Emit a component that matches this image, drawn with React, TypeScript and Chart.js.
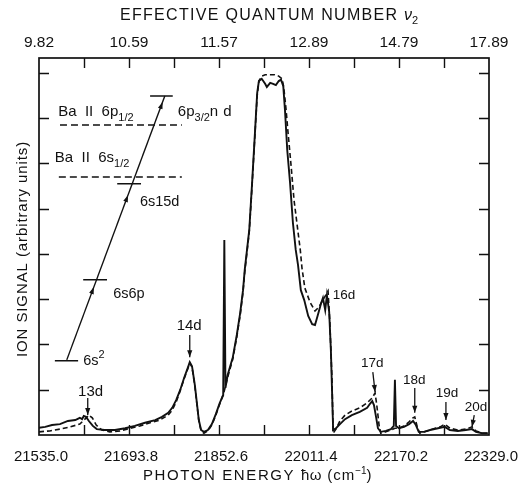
import React, { useEffect, useRef } from 'react';
import { Chart, registerables } from 'chart.js';
Chart.register(...registerables);

const FONT = '"Liberation Sans", Arial, Helvetica, sans-serif';

// Axis tick labels
const bottomTickLabels = ['21535.0', '21693.8', '21852.6', '22011.4', '22170.2', '22329.0'];
const topTickLabels = ['9.82', '10.59', '11.57', '12.89', '14.79', '17.89'];
const signalTicks = [1, 2, 3, 4, 5, 6, 7, 8];
const signalMax = 8.33;

// Solid trace
const solidEnergy = [21535, 21546, 21558, 21572, 21586, 21599, 21607, 21611, 21614, 21618, 21623, 21630, 21637, 21651, 21669, 21687, 21704, 21722, 21740, 21752, 21763, 21770, 21777, 21784, 21791, 21798, 21801, 21805, 21810, 21814, 21817, 21821, 21826, 21833, 21840, 21847, 21854, 21860, 21862, 21864, 21868, 21877, 21884, 21890, 21895, 21898, 21902, 21906, 21911, 21916, 21920, 21923, 21928, 21934, 21937, 21943, 21948, 21953, 21958, 21962, 21966, 21969, 21973, 21978, 21983, 21988, 21992, 21997, 22003, 22010, 22017, 22022, 22027, 22033, 22036, 22040, 22043, 22047, 22050, 22054, 22059, 22066, 22075, 22087, 22101, 22114, 22119, 22123, 22126, 22130, 22133, 22138, 22147, 22156, 22161, 22163, 22165, 22170, 22179, 22188, 22195, 22200, 22205, 22214, 22225, 22239, 22251, 22260, 22274, 22288, 22299, 22306, 22317, 22327];
const solidSignal = [0.16, 0.18, 0.22, 0.24, 0.31, 0.33, 0.38, 0.35, 0.42, 0.40, 0.31, 0.20, 0.13, 0.11, 0.11, 0.15, 0.20, 0.27, 0.33, 0.40, 0.49, 0.60, 0.77, 0.99, 1.26, 1.50, 1.61, 1.52, 1.10, 0.66, 0.33, 0.11, 0.07, 0.11, 0.24, 0.46, 0.71, 0.88, 4.31, 1.04, 1.33, 1.72, 2.21, 2.70, 3.20, 3.65, 4.09, 4.53, 5.57, 6.67, 7.56, 7.82, 7.87, 7.76, 7.69, 7.78, 7.76, 7.73, 7.82, 7.85, 7.71, 7.18, 6.30, 5.57, 4.69, 4.09, 3.76, 3.20, 2.98, 2.63, 2.45, 2.43, 2.65, 2.92, 3.03, 2.76, 3.09, 2.72, 1.88, 0.11, 0.15, 0.24, 0.35, 0.44, 0.51, 0.60, 0.69, 0.75, 0.66, 0.38, 0.15, 0.07, 0.09, 0.13, 0.20, 1.22, 0.20, 0.15, 0.18, 0.24, 0.31, 0.22, 0.07, 0.07, 0.11, 0.15, 0.18, 0.11, 0.09, 0.11, 0.13, 0.07, 0.04, 0.04];

// Dashed trace
const dashEnergy = [21535, 21554, 21572, 21590, 21607, 21616, 21623, 21629, 21636, 21646, 21660, 21678, 21696, 21713, 21731, 21748, 21763, 21770, 21777, 21784, 21791, 21798, 21801, 21805, 21810, 21814, 21817, 21821, 21826, 21833, 21840, 21847, 21854, 21861, 21868, 21877, 21884, 21890, 21895, 21898, 21902, 21906, 21911, 21916, 21920, 21923, 21928, 21934, 21943, 21951, 21958, 21964, 21967, 21971, 21974, 21980, 21985, 21990, 21996, 21999, 22004, 22013, 22022, 22029, 22034, 22040, 22045, 22048, 22052, 22054, 22059, 22066, 22075, 22087, 22101, 22114, 22123, 22128, 22131, 22135, 22138, 22147, 22156, 22163, 22170, 22179, 22188, 22195, 22198, 22203, 22207, 22220, 22234, 22243, 22251, 22260, 22274, 22288, 22299, 22306, 22317, 22327];
const dashSignal = [0.07, 0.09, 0.13, 0.18, 0.24, 0.35, 0.44, 0.38, 0.22, 0.11, 0.07, 0.09, 0.15, 0.20, 0.27, 0.33, 0.44, 0.55, 0.73, 0.97, 1.24, 1.48, 1.59, 1.50, 1.08, 0.64, 0.31, 0.09, 0.04, 0.09, 0.22, 0.44, 0.69, 0.93, 1.28, 1.68, 2.17, 2.65, 3.16, 3.60, 4.04, 4.49, 5.52, 6.63, 7.51, 7.82, 7.93, 7.96, 7.96, 7.96, 7.93, 7.87, 7.67, 7.18, 6.74, 5.92, 5.19, 4.69, 4.09, 3.69, 3.25, 2.94, 2.74, 2.83, 2.94, 3.07, 3.18, 2.54, 1.22, 0.04, 0.13, 0.31, 0.44, 0.53, 0.60, 0.71, 0.82, 0.93, 0.66, 0.22, 0.04, 0.07, 0.11, 0.15, 0.15, 0.20, 0.29, 0.38, 0.40, 0.15, 0.04, 0.09, 0.15, 0.18, 0.24, 0.15, 0.11, 0.13, 0.18, 0.09, 0.04, 0.04];

// Peak labels and their arrows (energy, signal)
const peakNames = ['13d', '14d', '16d', '17d', '18d', '19d', '20d'];
const peakLabelE = [21626, 21800, 22073, 22123, 22197, 22255, 22306];
const peakLabelS = [0.95, 2.41, 3.09, 1.59, 1.22, 0.93, 0.62];
const peakArrowFromE = [21621, 21801, null, 22124, 22198, 22253, 22303];
const peakArrowFromS = [0.82, 2.21, null, 1.39, 1.04, 0.73, 0.44];
const peakArrowToE = [21621, 21801, null, 22128, 22198, 22253, 22299];
const peakArrowToS = [0.44, 1.72, null, 0.95, 0.49, 0.33, 0.18];

// Inset energy-level diagram (drawn in data units)
const levelE0 = [21563, 21613, 21673, 21731];
const levelE1 = [21604, 21655, 21715, 21771];
const levelS = [1.64, 3.43, 5.55, 7.49];
const limitE0 = [21572, 21570];
const limitE1 = [21787, 21787];
const limitS = [6.85, 5.70];
const transitionE = [21584, 21757];
const transitionS = [1.66, 7.49];
const transitionArrowS = [3.27, 5.30, 7.36];

type Part = { t: string; size: number; dy?: number; ls?: number; italic?: boolean };

function drawRich(ctx: CanvasRenderingContext2D, parts: Part[], x: number, y: number) {
  let cx = x;
  for (const p of parts) {
    ctx.font = `${p.italic ? 'italic ' : ''}${p.size}px ${FONT}`;
    (ctx as any).letterSpacing = `${p.ls ?? 0}px`;
    ctx.fillText(p.t, cx, y + (p.dy ?? 0));
    cx += ctx.measureText(p.t).width;
  }
  (ctx as any).letterSpacing = '0px';
  return cx - x;
}

function arrowHead(ctx: CanvasRenderingContext2D, x: number, y: number, ang: number, len = 7, half = 2.6) {
  ctx.save();
  ctx.translate(x, y);
  ctx.rotate(ang);
  ctx.beginPath();
  ctx.moveTo(0, 0);
  ctx.lineTo(-len, -half);
  ctx.lineTo(-len, half);
  ctx.closePath();
  ctx.fill();
  ctx.restore();
}

const framePlugin = {
  id: 'frame',
  afterDatasetsDraw(chart: any) {
    const { ctx, chartArea: a } = chart;
    const x = chart.scales.x;
    const y = chart.scales.y;
    const X = (v: number) => x.getPixelForValue(v);
    const Y = (v: number) => y.getPixelForValue(v);
    ctx.save();
    ctx.strokeStyle = '#111';
    ctx.fillStyle = '#111';

    // frame
    ctx.lineWidth = 1.7;
    ctx.strokeRect(a.left, a.top, a.right - a.left, a.bottom - a.top);

    // ticks (inward)
    const major = bottomTickLabels.map(Number);
    const allX: number[] = [];
    for (let i = 0; i < major.length; i++) {
      allX.push(major[i]);
      if (i < major.length - 1) allX.push((major[i] + major[i + 1]) / 2);
    }
    ctx.lineWidth = 1.4;
    ctx.beginPath();
    allX.forEach((v) => {
      if (v <= x.min || v >= x.max) return;
      const px = Math.round(X(v)) + 0.5;
      ctx.moveTo(px, a.bottom);
      ctx.lineTo(px, a.bottom - 10);
      ctx.moveTo(px, a.top);
      ctx.lineTo(px, a.top + 10);
    });
    signalTicks.forEach((v) => {
      const py = Math.round(Y(v)) + 0.5;
      ctx.moveTo(a.left, py);
      ctx.lineTo(a.left + 10, py);
      ctx.moveTo(a.right, py);
      ctx.lineTo(a.right - 10, py);
    });
    ctx.stroke();

    // tick labels
    ctx.textBaseline = 'alphabetic';
    ctx.textAlign = 'center';
    ctx.font = `15px ${FONT}`;
    bottomTickLabels.forEach((l, i) => ctx.fillText(l, X(major[i]) + 2, a.bottom + 26));
    ctx.font = `15.5px ${FONT}`;
    topTickLabels.forEach((l, i) => ctx.fillText(l, X(major[i]), a.top - 11));

    // axis titles
    ctx.textAlign = 'left';
    drawRich(ctx, [
      { t: 'EFFECTIVE QUANTUM NUMBER ', size: 16, ls: 1.3 },
      { t: 'ν', size: 16, italic: true },
      { t: '2', size: 11, dy: 4 },
    ], 120, 20);
    drawRich(ctx, [
      { t: 'PHOTON ENERGY ', size: 15, ls: 1.6 },
      { t: 'ħω', size: 15, ls: 0.5 },
      { t: ' (cm', size: 15, ls: 1 },
      { t: '−1', size: 10, dy: -6 },
      { t: ')', size: 15 },
    ], 143, 480);

    ctx.save();
    ctx.translate(27, 249);
    ctx.rotate(-Math.PI / 2);
    ctx.textAlign = 'center';
    ctx.font = `15px ${FONT}`;
    (ctx as any).letterSpacing = '0.9px';
    ctx.fillText('ION SIGNAL (arbitrary units)', 0, 0);
    (ctx as any).letterSpacing = '0px';
    ctx.restore();

    // peak labels & arrows
    ctx.textAlign = 'center';
    peakNames.forEach((n, i) => {
      ctx.font = `${i < 2 ? 15 : 13.5}px ${FONT}`;
      ctx.textBaseline = 'middle';
      ctx.fillText(n, X(peakLabelE[i]), Y(peakLabelS[i]));
      const fe = peakArrowFromE[i];
      if (fe == null) return;
      const x0 = X(fe), y0 = Y(peakArrowFromS[i] as number);
      const x1 = X(peakArrowToE[i] as number), y1 = Y(peakArrowToS[i] as number);
      ctx.lineWidth = 1.3;
      ctx.beginPath();
      ctx.moveTo(x0, y0);
      ctx.lineTo(x1, y1);
      ctx.stroke();
      arrowHead(ctx, x1, y1, Math.atan2(y1 - y0, x1 - x0), 7, 2.6);
    });
    ctx.textBaseline = 'alphabetic';

    // inset: levels
    ctx.lineWidth = 1.6;
    ctx.beginPath();
    levelS.forEach((s, i) => {
      ctx.moveTo(X(levelE0[i]), Y(s));
      ctx.lineTo(X(levelE1[i]), Y(s));
    });
    ctx.stroke();
    ctx.setLineDash([7, 4]);
    ctx.beginPath();
    limitS.forEach((s, i) => {
      ctx.moveTo(X(limitE0[i]), Y(s));
      ctx.lineTo(X(limitE1[i]), Y(s));
    });
    ctx.stroke();
    ctx.setLineDash([]);
    // transition
    const tx0 = X(transitionE[0]), ty0 = Y(transitionS[0]);
    const tx1 = X(transitionE[1]), ty1 = Y(transitionS[1]);
    ctx.lineWidth = 1.4;
    ctx.beginPath();
    ctx.moveTo(tx0, ty0);
    ctx.lineTo(tx1, ty1);
    ctx.stroke();
    const ang = Math.atan2(ty1 - ty0, tx1 - tx0);
    transitionArrowS.forEach((s) => {
      const py = Y(s);
      const t = (py - ty0) / (ty1 - ty0);
      arrowHead(ctx, tx0 + t * (tx1 - tx0), py, ang, 7, 2.4);
    });

    // inset labels
    ctx.textAlign = 'left';
    const lbl = (parts: Part[], e: number, s: number) => drawRich(ctx, parts, X(e), Y(s));
    lbl([{ t: '6s', size: 14.5 }, { t: '2', size: 11, dy: -7 }], 21613, 1.55);
    lbl([{ t: '6s6p', size: 14.5 }], 21666, 3.03);
    lbl([{ t: '6s15d', size: 14.5 }], 21713, 5.07);
    lbl([{ t: '6p', size: 15 }, { t: '3/2', size: 11, dy: 5 }, { t: 'n d', size: 15, ls: 0.5 }], 21780, 7.05);
    lbl([{ t: 'Ba  II  6p', size: 15 }, { t: '1/2', size: 11, dy: 5 }], 21569, 7.05);
    lbl([{ t: 'Ba  II  6s', size: 15 }, { t: '1/2', size: 11, dy: 5 }], 21563, 6.04);

    ctx.restore();
  },
};

export default function App() {
  const ref = useRef<HTMLCanvasElement | null>(null);
  useEffect(() => {
    const canvas = ref.current;
    if (!canvas) return;
    const chart = new Chart(canvas, {
      type: 'line',
      data: {
        datasets: [
          {
            data: solidEnergy.map((e, i) => ({ x: e, y: solidSignal[i] })),
            borderColor: '#111',
            borderWidth: 1.9,
            pointRadius: 0,
            tension: 0,
            fill: false,
          },
          {
            data: dashEnergy.map((e, i) => ({ x: e, y: dashSignal[i] })),
            borderColor: '#111',
            borderWidth: 1.6,
            borderDash: [5, 3],
            pointRadius: 0,
            tension: 0,
            fill: false,
          },
        ],
      },
      options: {
        responsive: false,
        animation: false,
        devicePixelRatio: 1,
        layout: { padding: { left: 39, top: 58, right: 32, bottom: 62 } },
        scales: {
          x: { type: 'linear', min: 21535, max: 22329, display: false },
          y: { type: 'linear', min: 0, max: signalMax, display: false },
        },
        plugins: { legend: { display: false }, tooltip: { enabled: false } },
      },
      plugins: [framePlugin],
    });
    return () => chart.destroy();
  }, []);
  return (
    <div style={{ position: 'fixed', left: 0, top: 0, width: 521, height: 497, background: '#fff' }}>
      <canvas ref={ref} width={521} height={497} style={{ display: 'block' }} />
    </div>
  );
}
